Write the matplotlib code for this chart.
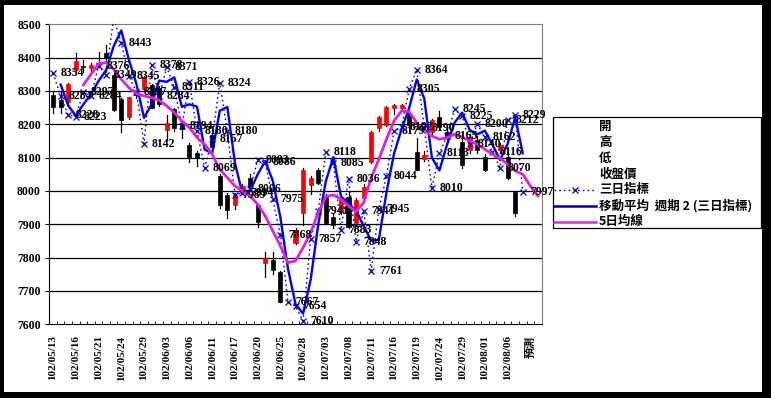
import numpy as np
import pandas as pd
import matplotlib
matplotlib.use("Agg")
import matplotlib.pyplot as plt
from matplotlib.lines import Line2D
from matplotlib.patches import Rectangle

plt.rcParams['font.family'] = ['Liberation Serif', 'Noto Sans CJK TC', 'DejaVu Sans']

nan = np.nan
dates = ["102/05/13","102/05/14","102/05/15","102/05/16","102/05/17","102/05/20","102/05/21","102/05/22",
         "102/05/23","102/05/24","102/05/27","102/05/28","102/05/29","102/05/30","102/05/31","102/06/03",
         "102/06/04","102/06/05","102/06/06","102/06/07","102/06/10","102/06/11","102/06/13","102/06/14",
         "102/06/17","102/06/18","102/06/19","102/06/20","102/06/21","102/06/24","102/06/25","102/06/26",
         "102/06/27","102/06/28","102/07/01","102/07/02","102/07/03","102/07/04","102/07/05","102/07/08",
         "102/07/09","102/07/10","102/07/11","102/07/12","102/07/15","102/07/16","102/07/17","102/07/18",
         "102/07/19","102/07/22","102/07/23","102/07/24","102/07/25","102/07/26","102/07/29","102/07/30",
         "102/07/31","102/08/01","102/08/02","102/08/05","102/08/06","102/08/07","102/08/08","預測",""]

open_ = [8288,8273,8268,8363,8376,8368,8380,8413,8348,8276,8221,8297,8305,8318,8310,8183,
         8246,8203,8138,8115,nan,8168,8045,7988,7958,7995,8040,7958,7784,7793,7758,nan,
         7843,7934,8018,8063,7983,7923,7938,7983,7903,7978,8088,8188,8198,8248,8248,8233,
         8118,8095,8178,8223,8178,nan,8148,8123,8153,8103,nan,8123,8103,7998,nan,nan,nan]
high = [8298,8298,8325,8415,8393,8385,8418,8438,8355,8280,8283,8300,8345,8320,8315,8228,
        8250,8205,8145,8120,nan,8175,8050,7995,7995,8020,8050,7960,7818,7818,7760,nan,
        7890,8069,8045,8070,7990,7935,7990,8000,7980,8020,8180,8225,8255,8260,8262,8240,
        8160,8120,8215,8240,8190,nan,8170,8170,8165,8110,nan,8145,8130,8000,nan,nan,nan]
low = [8233,8233,8265,8355,8358,8360,8373,8390,8240,8178,8215,8280,8300,8248,8255,8153,
       8180,8160,8088,8075,nan,8130,7950,7918,7945,7990,8010,7893,7743,7750,7668,nan,
       7840,7898,7990,8020,7900,7890,7930,7890,7895,7975,8085,8180,8195,8230,8240,8190,
       8063,8090,8170,8185,8155,nan,8070,8115,8115,8060,nan,8115,8035,7925,nan,nan,nan]
close = [8251,8251,8320,8390,8373,8378,8383,8398,8243,8213,8283,8287,8341,8250,8262,8204,
         8188,8185,8102,8100,nan,8133,7958,7943,7988,8015,8013,7908,7798,7763,7668,nan,
         7883,8062,8039,8023,7903,7898,7983,7893,7973,8013,8178,8223,8253,8258,8258,8198,
         8063,8108,8213,8193,8163,nan,8078,8163,8123,8063,nan,8138,8039,7933,nan,nan,nan]
tri = [8354,8284,8228,8223,8297,8284,8376,8349,8520,8443,8345,8297,8142,8378,8284,8371,
       8311,8194,8326,8180,8069,8157,8324,8180,7989,7994,8006,8093,8086,7975,7868,7667,
       7654,7610,7857,7941,8118,8085,7883,8036,7848,7941,7761,7945,8044,8179,8192,8305,
       8364,8190,8010,8113,8165,8245,8225,8140,8200,8162,8116,8070,8212,8229,7997,nan,nan]
ma5 = [nan,nan,nan,nan,8318,8350,8382,8385,8365,8335,8310,8292,8285,8280,8272,8255,
       8235,8210,8190,8160,8140,8110,8065,8040,8015,8000,7985,7960,7925,7880,7835,7785,
       7790,7830,7875,7935,7983,7988,7975,7955,7938,7965,8040,8095,8155,8210,8240,8238,
       8205,8180,8165,8155,8160,8170,8162,8150,8140,8125,8110,8098,8080,8060,8050,8015,7985]

o = np.array(open_, float); h = np.array(high, float); l = np.array(low, float); c = np.array(close, float)
t = np.array(tri, float); m5 = np.array(ma5, float)
ma2 = pd.Series(t).rolling(2).mean().to_numpy()   # Excel moving-average trendline, period 2
x = np.arange(len(dates))

W, H = 771, 398
fig = plt.figure(figsize=(W/100, H/100), dpi=100)
fig.patch.set_facecolor('black')
fig.add_artist(Rectangle((4/W, (H-392)/H), (762-4)/W, (392-5)/H, transform=fig.transFigure,
                         facecolor='white', edgecolor='none', zorder=0))
ax = fig.add_axes([49.3/W, (H-324.3)/H, 492.4/W, 300/H])
ax.set_facecolor('white')
ax.set_xlim(-0.5, len(dates)-0.5)
ax.set_ylim(7600, 8500)
ax.set_yticks(np.arange(7600, 8501, 100))
for yv in range(7700, 8500, 100):
    ax.axhline(yv, color='black', lw=0.9, zorder=1)

# candles
for i in range(len(x)):
    if np.isnan(o[i]):
        continue
    ax.plot([x[i], x[i]], [l[i], h[i]], color='black', lw=0.9, zorder=3)
    up = c[i] >= o[i]
    bot = min(o[i], c[i]); ht = max(abs(c[i]-o[i]), 2)
    col = '#ff0000' if up else 'black'
    ax.add_patch(Rectangle((x[i]-0.27, bot), 0.54, ht, facecolor=col, edgecolor=col, lw=0.5, zorder=4))

ax.plot(x, t, color='#0000cc', lw=1.0, ls=(0, (1.2, 2.2)), marker='x', ms=4.5, mew=0.9, zorder=5)
ax.plot(x, ma2, color='#0000ff', lw=1.7, zorder=6)
ax.plot(x, m5, color='#e020e0', lw=2.0, zorder=6)

for i in range(len(x)):
    if not np.isnan(t[i]):
        ax.annotate(f"{int(t[i])}", (x[i], t[i]), xytext=(5.5, 0), textcoords='offset points',
                    ha='left', va='center', fontsize=8.5, fontweight='bold', color='black', zorder=7)

ax.set_xticks(np.arange(len(dates)) - 0.5, minor=True)
ax.set_xticks(x[::3])
ax.set_xticklabels([dates[i] for i in x[::3]], rotation=90, fontsize=8, fontweight='bold',
                   family=['Liberation Serif', 'Noto Sans CJK TC'])
ax.tick_params(axis='x', which='major', length=0, pad=8)
ax.tick_params(axis='x', which='minor', direction='in', length=2.5)
ax.set_yticklabels([str(v) for v in range(7600, 8501, 100)], fontsize=8.5, fontweight='bold')
ax.tick_params(axis='y', direction='out', length=3, pad=3)
for s in ['top', 'right']:
    ax.spines[s].set_color('#808080')
for s in ['left', 'bottom']:
    ax.spines[s].set_color('black')

# legend drawn manually in figure pixel coordinates
def fx(px):
    return px / W
def fy(py):
    return 1 - py / H

fig.add_artist(Rectangle((fx(552.7), fy(228.3)), (760.7-552.7)/W, (228.3-117.3)/H,
                         transform=fig.transFigure, facecolor='white', edgecolor='black', lw=0.9, zorder=2))
leg_labels = ['開', '高', '低', '收盤價', '三日指標', '移動平均  週期 2 (三日指標)', '5日均線']
leg_y = [126.7, 142.5, 158.3, 174.2, 190.0, 205.8, 221.7]
for lab, yy in zip(leg_labels, leg_y):
    fig.text(fx(599), fy(yy), lab, ha='left', va='center', fontsize=9, fontweight='bold',
             family=['Noto Sans CJK TC', 'DejaVu Sans'], zorder=3)
fig.add_artist(Line2D([fx(554), fx(596)], [fy(190.0)]*2, transform=fig.transFigure, color='#0000cc',
                      lw=1.0, ls=(0, (1.2, 2.2)), zorder=3))
fig.add_artist(Line2D([fx(575)], [fy(190.0)], transform=fig.transFigure, color='#0000cc',
                      marker='x', ms=4.5, mew=0.9, zorder=3))
fig.add_artist(Line2D([fx(554), fx(596)], [fy(205.8)]*2, transform=fig.transFigure, color='#000099',
                      lw=1.8, zorder=3))
fig.add_artist(Line2D([fx(554), fx(596)], [fy(221.7)]*2, transform=fig.transFigure, color='#cc33cc',
                      lw=1.8, zorder=3))

fig.savefig('out.png', dpi=100, facecolor=fig.get_facecolor())
